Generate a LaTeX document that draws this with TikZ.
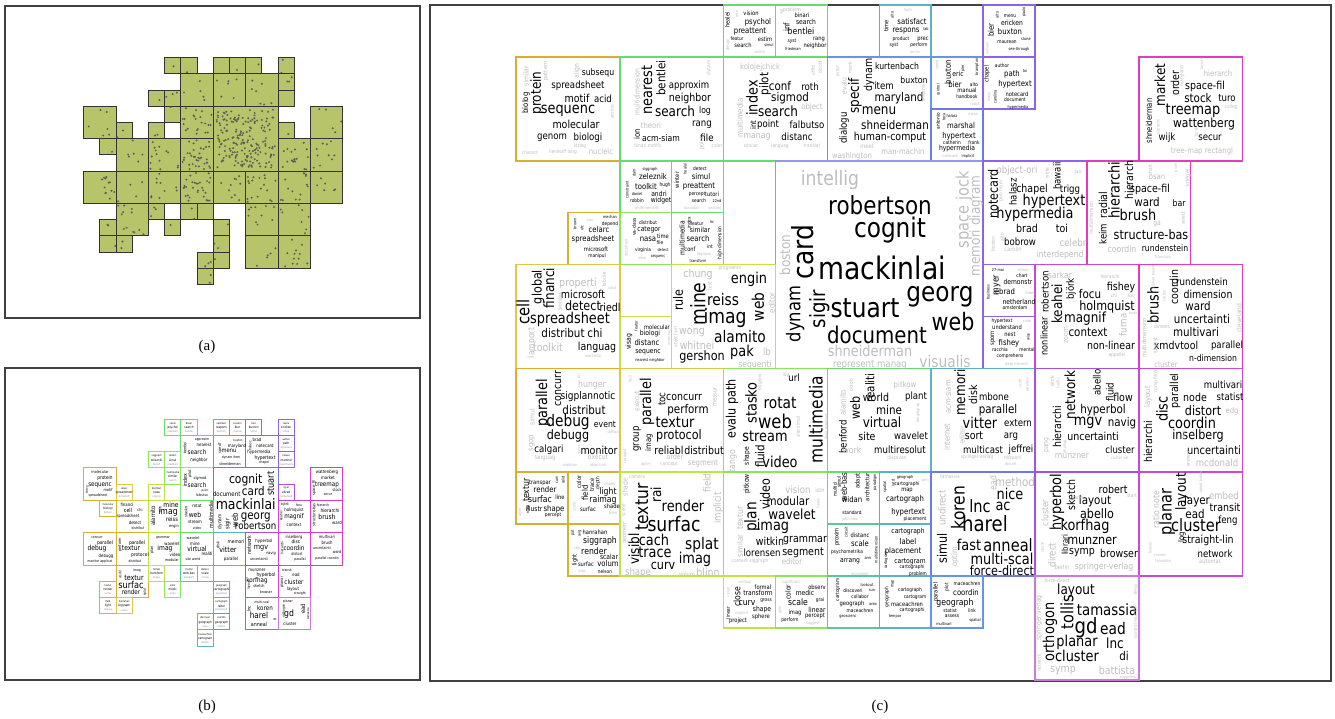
\documentclass[tikz,border=0pt]{standalone}
\usepackage{fontspec}
\setmainfont{Liberation Serif}
\newfontfamily\cloudfont{DejaVu Sans}[FakeStretch=0.86]
\usetikzlibrary{positioning}
\definecolor{clGold}{RGB}{214,176,48}
\definecolor{clOrange}{RGB}{236,168,40}
\definecolor{clYel}{RGB}{222,200,70}
\definecolor{clLime}{RGB}{190,228,70}
\definecolor{clLeaf}{RGB}{140,230,90}
\definecolor{clGreen}{RGB}{100,220,110}
\definecolor{clPale}{RGB}{150,228,150}
\definecolor{clMint}{RGB}{90,200,150}
\definecolor{clTeal}{RGB}{90,180,200}
\definecolor{clSky}{RGB}{100,150,230}
\definecolor{clBlue}{RGB}{110,120,230}
\definecolor{clLav}{RGB}{150,150,235}
\definecolor{clViolet}{RGB}{140,100,235}
\definecolor{clPurple}{RGB}{170,80,220}
\definecolor{clOrchid}{RGB}{205,70,215}
\definecolor{clMag}{RGB}{225,60,190}
\definecolor{clPink}{RGB}{205,120,220}
\definecolor{aFill}{RGB}{184,196,106}
\definecolor{dotC}{RGB}{95,95,85}
\definecolor{wordG}{RGB}{190,190,190}

% one word of a cloud: [opts]{x}{y}{size}{text}
\newcommand{\wrd}[5][]{\node[wrd,#1] at (#2,#3) {\fontsize{#4}{#4}\selectfont #5};}
% panel (c) cell: {p}{q}{size}{colour}
\newcommand{\ccell}[4]{\draw[cbox,draw=#4] ({516+51.9*(#1)},{57+51.9*(#2)}) rectangle ++({51.9*(#3)},{51.9*(#3)});}
% panel (b) cell: {i}{j}{size}{colour}
\newcommand{\bcell}[4]{\draw[bbox,draw=#4] ({83.7+16.2*(#1)},{419.3+16.2*(#2)}) rectangle ++({16.2*(#3)},{16.2*(#3)});}
\newcommand{\bsmall}[6]{\bcell{#1}{#2}{1}{#3}%
  \node[wrd] at ({91.8+16.2*(#1)},{423.6+16.2*(#2)}) {\fontsize{2.6}{2.6}\selectfont #4};%
  \node[wrd] at ({91.8+16.2*(#1)},{427.8+16.2*(#2)}) {\fontsize{3.2}{3.2}\selectfont #5};%
  \node[wrd,text=black!45] at ({91.8+16.2*(#1)},{432+16.2*(#2)}) {\fontsize{2.6}{2.6}\selectfont #6};}
% panel (a) cell with its points: {i}{j}{size}{points}
\newcommand{\acell}[4]{%
  \pgfmathsetmacro{\ax}{83.7+16.2*(#1)}%
  \pgfmathsetmacro{\ay}{57.7+16.2*(#2)}%
  \pgfmathsetmacro{\as}{16.2*(#3)}%
  \draw[abox] (\ax,\ay) rectangle ++(\as,\as);%
  \ifnum#4>0
    \foreach \k in {1,...,#4}{\fill[dotC] ({\ax+\as*(0.5+0.45*rand)},{\ay+\as*(0.5+0.45*rand)}) circle (1.1);}%
  \fi}

\begin{document}
\begin{tikzpicture}[x=1pt,y=-1pt,
  wrd/.style={inner sep=0pt,font=\cloudfont},
  lt/.style={text=wordG},
  up/.style={rotate=90},
  frame/.style={draw=black!75,line width=1.1pt},
  cbox/.style={line width=1.5pt},
  bbox/.style={line width=0.9pt,fill=white},
  abox/.style={fill=aFill,draw=black!80,line width=1pt}]
  \fill[white] (0,0) rectangle (1335,719);
  \useasboundingbox (0,0) rectangle (1335,719);
  \pgfmathsetseed{42}

  % ---------- (a) grid of occupied cells ----------
  \draw[frame] (5,6) rectangle (420,318);
  \acell{5}{0}{1}{1} \acell{6}{0}{1}{1} \acell{8}{0}{1}{0} \acell{9}{0}{1}{1} \acell{10}{0}{1}{1} \acell{12}{0}{1}{2}
  \acell{6}{1}{2}{5} \acell{8}{1}{2}{6} \acell{10}{1}{2}{7} \acell{12}{1}{1}{3} \acell{12}{2}{1}{0}
  \acell{4}{2}{1}{1} \acell{5}{2}{1}{3}
  \acell{0}{3}{2}{6} \acell{5}{3}{1}{1} \acell{6}{3}{2}{22} \acell{8}{3}{4}{190} \acell{14}{3}{2}{5}
  \acell{2}{4}{1}{2} \acell{4}{4}{1}{2} \acell{12}{4}{1}{1}
  \acell{1}{5}{1}{1} \acell{2}{5}{2}{6} \acell{4}{5}{2}{14} \acell{6}{5}{2}{35} \acell{12}{5}{2}{18} \acell{14}{5}{2}{10}
  \acell{0}{7}{2}{12} \acell{2}{7}{2}{4} \acell{4}{7}{2}{10} \acell{6}{7}{2}{30} \acell{8}{7}{2}{10} \acell{10}{7}{2}{18} \acell{12}{7}{2}{14} \acell{14}{7}{2}{6}
  \acell{2}{9}{2}{12} \acell{4}{9}{1}{3} \acell{6}{9}{1}{2} \acell{7}{9}{1}{0} \acell{10}{9}{2}{10} \acell{12}{9}{2}{8}
  \acell{1}{10}{1}{2} \acell{5}{10}{1}{1} \acell{8}{10}{1}{1}
  \acell{1}{11}{1}{1} \acell{2}{11}{1}{2} \acell{8}{11}{1}{2} \acell{10}{11}{2}{5} \acell{12}{11}{2}{12}
  \acell{7}{12}{1}{3} \acell{8}{12}{1}{1} \acell{7}{13}{1}{2}
  \node (capA) at (207,347) {\fontsize{15}{15}\selectfont (a)};

  % ---------- (b) same grid, tiny clouds ----------
  \draw[frame] (5,368) rectangle (420,680);
  \bcell{6}{1}{2}{clGreen} \bcell{8}{1}{2}{clSky} \bcell{10}{1}{2}{clViolet}
  \bcell{0}{3}{2}{clGold} \bcell{6}{3}{2}{clPale} \bcell{8}{3}{4}{clBlue} \bcell{14}{3}{2}{clMag}
  \bcell{2}{5}{2}{clYel} \bcell{4}{5}{2}{clLime} \bcell{6}{5}{2}{clGreen} \bcell{12}{5}{2}{clOrchid} \bcell{14}{5}{2}{clMag}
  \bcell{0}{7}{2}{clOrange} \bcell{2}{7}{2}{clGold} \bcell{4}{7}{2}{clLime} \bcell{6}{7}{2}{clGreen}
  \bcell{8}{7}{2}{clTeal} \bcell{10}{7}{2}{clPurple} \bcell{12}{7}{2}{clOrchid} \bcell{14}{7}{2}{clMag}
  \bcell{2}{9}{2}{clGold} \bcell{10}{9}{2}{clPurple} \bcell{12}{9}{2}{clOrchid}
  \bcell{10}{11}{2}{clBlue} \bcell{12}{11}{2}{clPink}
  \bsmall{5}{0}{clGreen}{vision}{psychol}{preattent}
  \bsmall{6}{0}{clGreen}{binari}{search}{bentlei}
  \bsmall{8}{0}{clTeal}{satisfact}{respons}{perform}
  \bsmall{9}{0}{clSky}{buxton}{bier}{manual}
  \bsmall{10}{0}{clBlue}{bier}{buxton}{stone}
  \bsmall{12}{0}{clViolet}{menu}{ericken}{stone}
  \bsmall{12}{1}{clViolet}{author}{path}{hypertext}
  \bsmall{12}{2}{clViolet}{halasz}{marshal}{hypermedia}
  \bsmall{4}{2}{clLeaf}{siggraph}{zeleznik}{toolkit}
  \bsmall{5}{2}{clLeaf}{detect}{simul}{preattent}
  \bsmall{5}{3}{clLeaf}{multimedia}{similar}{search}
  \bsmall{2}{4}{clYel}{celarc}{spreadsheet}{microsoft}
  \bsmall{4}{4}{clLime}{distribut}{nasa}{virginia}
  \bsmall{12}{4}{clPurple}{myer}{ebrad}{netherland}
  \bsmall{1}{5}{clGold}{molecular}{biologi}{distanc}
  \bsmall{4}{9}{clLime}{formal}{transform}{shape}
  \bsmall{6}{9}{clMint}{multid}{web-bas}{standard}
  \bsmall{7}{9}{clMint}{distanc}{scale}{arrang}
  \bsmall{5}{10}{clLeaf}{color}{medic}{scale}
  \bsmall{8}{10}{clTeal}{geograph}{cartographi}{hypertext}
  \bsmall{1}{10}{clGold}{textur}{render}{surfac}
  \bsmall{1}{11}{clGold}{field}{light}{raimag}
  \bsmall{2}{11}{clYel}{hanrahan}{siggraph}{volum}
  \bsmall{8}{11}{clTeal}{cartograph}{label}{placement}
  \bsmall{7}{12}{clTeal}{discoveri}{geograph}{area}
  \bsmall{8}{12}{clSky}{coordin}{geograph}{statist}
  \bsmall{7}{13}{clTeal}{maceachren}{cartogram}{tempor}
  % words of the bigger (b) cells
  \wrd{245.7}{480.2}{12.5}{cognit}
  \wrd{253.3}{491.2}{12}{card}
  \wrd[up]{270.7}{483.7}{9.5}{stuart}
  \wrd{226.7}{494.3}{6.3}{document}
  \wrd{245.7}{504}{14.5}{mackinlai}
  \wrd{255.7}{517.7}{12}{georg}
  \wrd{255.7}{526}{10}{robertson}
  \wrd[up]{235}{520}{8}{web}
  \wrd[up]{227.7}{524}{6}{sigir}
  \wrd[up]{220}{521.7}{5}{dynam}
  \wrd{100}{472.5}{4}{molecular}
  \wrd{105}{478.5}{5}{protein}
  \wrd{100}{485}{6.5}{sequenc}
  \wrd{108}{490.5}{4}{motif}
  \wrd{98}{495.5}{3.5}{spreadsheet}
  \wrd[up]{87}{490}{3}{biolog}
  \wrd{202}{440}{3.5}{approxim}
  \wrd{204}{445}{4.5}{nearest}
  \wrd{197}{452}{6.5}{search}
  \wrd{199}{460}{4.5}{neighbor}
  \wrd[up]{185}{448}{4}{bentlei}
  \wrd[up]{185}{480}{5.5}{index}
  \wrd[up]{190}{474}{4}{pilot}
  \wrd{200}{478}{4}{sigmod}
  \wrd{197}{485}{6.5}{search}
  \wrd{205}{491}{3}{point}
  \wrd{202}{495}{3.5}{falbutso}
  \wrd[up]{220}{448}{4}{specif}
  \wrd{237}{446}{4.5}{maryland}
  \wrd{229}{451}{6}{menu}
  \wrd{231}{458}{3.5}{dynam item}
  \wrd{230}{464}{3.8}{shneiderman}
  \wrd{238}{440}{3}{buxton}
  \wrd{257}{440}{4.5}{brad}
  \wrd{265}{446}{4.5}{notecard}
  \wrd{259}{452}{4.5}{hypermedia}
  \wrd{265}{458}{5}{hypertext}
  \wrd{264}{463}{3.5}{chapel}
  \wrd[up]{250}{446}{3.5}{halasz}
  \wrd{327}{472.5}{4.5}{wattenberg}
  \wrd{328}{478}{4.5}{market}
  \wrd{327}{484.5}{6.5}{treemap}
  \wrd{337}{490}{4}{stock}
  \wrd{328}{495}{3.5}{secur}
  \wrd[up]{314}{488}{4}{space-fil}
  \wrd{127}{504.5}{4.5}{financi}
  \wrd{128}{510}{5.5}{cell}
  \wrd{140}{510}{4}{chi}
  \wrd{128}{516.5}{4.2}{spreadsheet}
  \wrd{135}{522.5}{4.5}{detect}
  \wrd{138}{528}{3.5}{distribut}
  \wrd[up]{153}{516}{6}{alamito}
  \wrd{171}{504.5}{7}{mine}
  \wrd{168}{512.5}{9}{imag}
  \wrd{172}{519.5}{6}{reiss}
  \wrd{174}{526}{4}{engin}
  \wrd[up]{160}{510}{3.5}{rule}
  \wrd{197}{506}{4.5}{rotat}
  \wrd{195}{514.5}{7}{web}
  \wrd{195}{522}{4.5}{stream}
  \wrd[up]{211}{515}{5.5}{multimedia}
  \wrd[up]{186}{512}{4}{stasko}
  \wrd{197}{528}{3.5}{video}
  \wrd{285}{505}{3.5}{björk}
  \wrd{299}{505}{3.5}{focu}
  \wrd{294}{510.5}{4.5}{holmquist}
  \wrd{294}{516.5}{6.5}{magnif}
  \wrd{294}{525}{4.5}{context}
  \wrd[up]{281}{516}{3.5}{keahei}
  \wrd{323}{505}{3.5}{hierarch}
  \wrd{330}{510.5}{5}{hierarchi}
  \wrd{327}{516.5}{7}{brush}
  \wrd{337}{523}{4.5}{ward}
  \wrd[up]{314}{515}{4}{structure-bas}
  \wrd{97}{538}{3.5}{concurr}
  \wrd{105}{543.5}{5}{parallel}
  \wrd{97}{549}{7}{debug}
  \wrd{106}{556.5}{4.5}{debugg}
  \wrd{100}{562}{3.5}{monitor applicat}
  \wrd{137}{543.5}{5}{parallel}
  \wrd{131}{548.5}{7}{textur}
  \wrd{140}{555}{5}{protocol}
  \wrd{135}{561}{3.5}{distribut}
  \wrd[up]{120}{545}{4}{perform}
  \wrd{163}{538}{3.5}{grammar}
  \wrd{172}{543.5}{4.5}{wavelet}
  \wrd{165}{548.5}{7}{imag}
  \wrd{175}{554.5}{4.5}{video}
  \wrd{172}{560}{3.8}{modular}
  \wrd[up]{152}{550}{4}{plan}
  \wrd{193}{538}{3.8}{wavelet}
  \wrd{195}{543.5}{4.5}{mine}
  \wrd{197}{549}{7}{virtual}
  \wrd{207}{554}{4.5}{realiti}
  \wrd{193}{559.5}{3.5}{site world}
  \wrd[up]{218}{545}{4}{disk}
  \wrd{236}{541.5}{5}{memori}
  \wrd{228}{550}{7.5}{vitter}
  \wrd{231}{559}{4.5}{parallel}
  \wrd[up]{249}{545}{5.5}{network}
  \wrd{264}{541.5}{4.5}{hyperbol}
  \wrd{261}{548}{7.5}{mgv}
  \wrd{271}{553}{4}{navig}
  \wrd{259}{559}{3.8}{uncertainti}
  \wrd{294}{537}{4.2}{inselberg}
  \wrd{296}{542}{5}{disc}
  \wrd{294}{548}{6.5}{coordin}
  \wrd{297}{554}{4}{distort}
  \wrd{300}{559.5}{3.5}{parallel}
  \wrd[up]{282}{548}{3.5}{hierarchi}
  \wrd{327}{537}{4.2}{multivari}
  \wrd{327}{542.5}{4.5}{brush}
  \wrd{322}{548}{3.8}{uncertainti}
  \wrd{337}{552.5}{4}{ward}
  \wrd{327}{558.5}{3.5}{parallel coordin}
  \wrd{137}{570.5}{3.5}{imag}
  \wrd{134}{578}{7.5}{textur}
  \wrd{131}{585}{9.5}{surfac}
  \wrd{131}{592}{6.5}{render}
  \wrd[up]{120}{575}{3.5}{visibl}
  \wrd[up]{145}{592}{3.5}{splat}
  \wrd{257}{570}{4.5}{munzner}
  \wrd{266}{575}{5}{hyperbol}
  \wrd{257}{580.5}{6.5}{korfhag}
  \wrd{259}{586}{4}{sketch}
  \wrd{266}{592}{3.5}{browser}
  \wrd[up]{249}{585}{3.5}{layout}
  \wrd{287}{570}{3.5}{transit}
  \wrd{296}{575}{4.5}{ead}
  \wrd{294}{582}{6.5}{cluster}
  \wrd{293}{589}{4.5}{layout}
  \wrd{300}{594}{3.5}{straight}
  \wrd[up]{282}{582}{4}{planar}
  \wrd[up]{249}{609}{4.5}{lnc}
  \wrd{262}{602}{3.5}{multi-scal}
  \wrd{265}{608}{6.5}{koren}
  \wrd{259}{615.5}{8.5}{harel}
  \wrd{259}{624}{5.5}{anneal}
  \wrd{275}{620}{3.5}{ac}
  \wrd{288}{602}{3.5}{planar}
  \wrd{289}{614}{9}{gd}
  \wrd[up]{303}{609}{6}{ead}
  \wrd{290}{624}{4.5}{cluster}
  \wrd[up]{284}{611}{3.5}{orthogon}
  \wrd[up]{308}{614}{3}{tamassia}
  \node (capB) at (207,707) {\fontsize{15}{15}\selectfont (b)};

  % ---------- (c) enlarged clouds ----------
  \draw[frame] (430,5) rectangle (1331,681);
  \ccell{4}{-1}{1}{clGreen} \ccell{5}{-1}{1}{clGreen} \ccell{7}{-1}{1}{clTeal} \ccell{9}{-1}{1}{clViolet}
  \ccell{0}{0}{2}{clGold} \ccell{2}{0}{2}{clGreen} \ccell{4}{0}{2}{clGreen} \ccell{6}{0}{2}{clSky}
  \ccell{8}{0}{1}{clSky} \ccell{9}{0}{1}{clViolet} \ccell{8}{1}{1}{clBlue} \ccell{12}{0}{2}{clMag}
  \ccell{2}{2}{1}{clGreen} \ccell{3}{2}{1}{clGreen} \ccell{5}{2}{4}{clLav} \ccell{9}{2}{2}{clViolet} \ccell{11}{2}{2}{clMag}
  \ccell{1}{3}{1}{clGold} \ccell{2}{3}{1}{clLeaf} \ccell{3}{3}{1}{clGreen}
  \ccell{0}{4}{2}{clYel} \ccell{3}{4}{2}{clLime} \ccell{2}{5}{1}{clLime}
  \ccell{9}{4}{1}{clViolet} \ccell{9}{5}{1}{clViolet} \ccell{10}{4}{2}{clOrchid} \ccell{12}{4}{2}{clMag}
  \ccell{0}{6}{2}{clOrange} \ccell{2}{6}{2}{clYel} \ccell{4}{6}{2}{clLeaf} \ccell{6}{6}{2}{clGreen}
  \ccell{8}{6}{2}{clTeal} \ccell{10}{6}{2}{clPurple} \ccell{12}{6}{2}{clOrchid}
  \ccell{0}{8}{1}{clGold} \ccell{1}{8}{1}{clGold} \ccell{1}{9}{1}{clGold} \ccell{2}{8}{2}{clLime}
  \ccell{4}{8}{2}{clLeaf} \ccell{6}{8}{1}{clGreen} \ccell{6}{9}{1}{clMint} \ccell{7}{8}{1}{clTeal} \ccell{7}{9}{1}{clTeal}
  \ccell{8}{8}{2}{clBlue} \ccell{10}{8}{2}{clPurple} \ccell{12}{8}{2}{clOrchid}
  \ccell{4}{10}{1}{clLime} \ccell{5}{10}{1}{clLeaf} \ccell{6}{10}{1}{clMint} \ccell{7}{10}{1}{clTeal}
  \ccell{8}{10}{1}{clSky} \ccell{10}{10}{2}{clPink}

  % top strip
  \wrd{751}{13}{6}{vision}
  \wrd{758}{22}{8}{psychol}
  \wrd{750}{31.5}{8}{preattent}
  \wrd{765}{39}{6}{estim}
  \wrd{737}{38.5}{5}{featur}
  \wrd{743}{45.5}{6}{search}
  \wrd{769}{45.5}{4}{simul}
  \wrd[up]{727.5}{20}{6}{healei}
  \wrd[up,lt]{737}{14}{4}{enn}
  \wrd[lt]{760}{52}{4}{orient}
  \wrd[up,lt]{728}{45}{4}{design}
  \wrd{802}{15.5}{6}{binari}
  \wrd{806}{22}{7}{search}
  \wrd[up]{786.5}{27}{8}{inf}
  \wrd{801}{31.5}{9}{bentlei}
  \wrd{819}{39}{6}{rang}
  \wrd{792}{41.5}{5}{syst}
  \wrd{815}{45.5}{6}{neighbor}
  \wrd{793}{49}{4}{friedman}
  \wrd[lt]{792}{10}{5}{problem}
  \wrd[up,lt]{782}{12}{4}{rep}
  \wrd{912}{21.5}{8}{satisfact}
  \wrd{906}{31.5}{8}{respons}
  \wrd{926}{29}{4}{lab}
  \wrd{901}{39}{5}{product}
  \wrd{923}{39}{6}{prec}
  \wrd{894}{45.5}{5}{syst}
  \wrd{919}{45.5}{5}{perform}
  \wrd[up]{886}{26}{6}{time}
  \wrd[up]{892}{15}{4}{alto}
  \wrd[lt]{915}{52}{4}{on-lin}
  \wrd[lt]{908}{10}{4}{tech}
  \wrd{1010}{16}{5}{menu}
  \wrd{1012}{22.5}{7}{ericken}
  \wrd[up]{991}{30}{8}{bier}
  \wrd{1010}{31.5}{8}{buxton}
  \wrd[up]{997}{15}{4}{alto}
  \wrd{1007}{42}{5}{maurean}
  \wrd{1026}{39}{4}{stone}
  \wrd{1019}{49}{4}{see-through}
  \wrd[up]{1024}{12}{4}{paulo}
  \wrd[up,lt]{987}{48}{4}{william}

  % row 0-2
  \wrd{598}{73}{9}{subsequ}
  \wrd{578}{86}{10}{spreadsheet}
  \wrd{577}{98}{11}{motif}
  \wrd{603}{98.5}{10}{acid}
  \wrd{568}{111}{15}{sequenc}
  \wrd[up]{537}{93}{14}{protein}
  \wrd[up]{526}{103}{8}{biolog}
  \wrd[up,lt]{526}{76}{7}{similar}
  \wrd{576}{124}{11}{molecular}
  \wrd{552}{137.5}{10}{genom}
  \wrd{588}{137.5}{10}{biologi}
  \wrd[up,lt]{546}{71}{6}{pattern}
  \wrd[up,lt]{577}{71}{7}{align}
  \wrd[up,lt]{612}{112}{5}{amino}
  \wrd[lt]{580}{146}{5}{string}
  \wrd[lt]{601}{151.5}{8}{nucleic}
  \wrd[lt]{563}{152.5}{5}{henikoff long}
  \wrd[lt]{530}{152.5}{5}{charact}

  \wrd[up]{647}{90}{15}{nearest}
  \wrd[up]{661}{78}{12}{bentlei}
  \wrd{689}{86}{10}{approxim}
  \wrd{690}{98.5}{11}{neighbor}
  \wrd{675}{111}{14}{search}
  \wrd{705}{111.5}{9}{log}
  \wrd{702}{125}{10}{rang}
  \wrd{661}{138}{9}{acm-siam}
  \wrd[up]{637}{134}{8}{ion}
  \wrd{707}{138}{10}{file}
  \wrd[up,lt]{637}{92}{7}{multidimension}
  \wrd[lt]{651}{125.5}{8}{theori}
  \wrd[lt]{648}{146}{5}{binari metric}
  \wrd[up,lt]{702}{143}{6}{point}
  \wrd[up,lt]{709}{68}{5}{dynam}
  \wrd[lt]{717}{146}{5}{color}

  \wrd[lt]{760}{67}{8}{kolojejchick}
  \wrd[up]{752}{98}{15}{index}
  \wrd[up]{765}{84}{12}{pilot}
  \wrd[up]{753}{125}{8}{int}
  \wrd{780}{86}{12}{conf}
  \wrd{810}{86.5}{10}{roth}
  \wrd{790}{98.5}{12}{sigmod}
  \wrd{778}{111}{14}{search}
  \wrd[lt]{812}{107}{8}{object}
  \wrd{768}{125}{10}{point}
  \wrd{807}{125}{10}{falbutso}
  \wrd{797}{137}{10}{distanc}
  \wrd[lt]{757}{137}{9}{manag}
  \wrd[up,lt]{740}{118}{8}{multimedia}
  \wrd[lt]{751}{146}{5}{similar}
  \wrd[lt]{780}{146}{5}{languag}
  \wrd[lt]{812}{146}{5}{translat}
  \wrd[up,lt]{813}{70}{5}{offici}
  \wrd[up,lt]{820}{67}{5}{doubl}

  \wrd{897}{66.5}{9}{kurtenbach}
  \wrd{914}{80}{9}{buxton}
  \wrd{884}{86}{10}{item}
  \wrd[up]{869}{75}{11}{dynam}
  \wrd[up]{855}{96}{14}{specif}
  \wrd{899}{98.5}{12}{maryland}
  \wrd{879}{111}{14}{menu}
  \wrd{895}{125}{12}{shneiderman}
  \wrd{890}{137}{11}{human-comput}
  \wrd[up]{844}{128}{10}{dialogu}
  \wrd[up,lt]{844}{86}{7}{evalu}
  \wrd[up,lt]{850}{68}{5}{mark}
  \wrd[up,lt]{838}{71}{5}{error}
  \wrd[lt]{867}{146}{6}{meet}
  \wrd[lt]{903}{151.5}{8}{man-machin}
  \wrd[lt]{852}{156.5}{8}{washington}
  \wrd[up,lt]{923}{90}{5}{williamson}

  \wrd[up]{948}{72}{8}{buxton}
  \wrd{958}{74}{7}{eric}
  \wrd{955}{85}{8}{bier}
  \wrd{974}{85}{5}{alto}
  \wrd{967}{90.5}{6}{manual}
  \wrd{967}{97}{5}{handbook}
  \wrd[up]{938}{90}{4}{control}
  \wrd[up]{963}{68}{4}{pier}
  \wrd[up]{977}{67}{4}{brampton}
  \wrd[lt]{975}{104}{4}{robot}
  \wrd[up,lt]{937}{65}{4}{stone}
  \wrd{1002}{65.5}{5}{author}
  \wrd{1012}{74}{8}{path}
  \wrd{1025}{71.5}{4}{toi}
  \wrd[up]{987}{74}{6}{chapel}
  \wrd{1015}{84}{8}{hypertext}
  \wrd{1017}{94}{6}{notecard}
  \wrd{1015}{100}{5}{document}
  \wrd{1018}{107}{4}{hypermedia}
  \wrd[up,lt]{989}{97}{4}{mass}
  \wrd[up]{995}{97}{4}{carolina}
  \wrd{952}{116.5}{4}{halasz}
  \wrd{961}{126}{8}{marshal}
  \wrd[up]{938}{121}{5}{antonio}
  \wrd[up]{944}{117}{4}{toca}
  \wrd{959}{136}{8}{hypertext}
  \wrd{952}{142.5}{5}{catherin}
  \wrd{974}{142.5}{5}{frank}
  \wrd{957}{148.5}{7}{hypermedia}
  \wrd[lt]{950}{156}{4}{notecard}
  \wrd{968}{156}{4}{implicit}
  \wrd[lt]{973}{114}{4}{mesa}

  \wrd[up]{1160}{85}{14}{market}
  \wrd[up]{1175}{83}{11}{order}
  \wrd[up]{1149}{121}{8}{shneiderman}
  \wrd{1205}{86}{11}{space-fil}
  \wrd{1198}{98.5}{12}{stock}
  \wrd{1227}{98.5}{10}{turo}
  \wrd{1193}{111}{15}{treemap}
  \wrd{1204}{124}{12.5}{wattenberg}
  \wrd{1167}{137.5}{10}{wijk}
  \wrd{1210}{137.5}{10}{secur}
  \wrd[lt]{1202}{151.5}{8}{tree-map rectangl}
  \wrd[lt]{1218}{74}{8}{hierarch}
  \wrd[lt]{1231}{107}{5}{colleg}
  \wrd[up,lt]{1182}{76}{5}{maryland}
  \wrd[up,lt]{1202}{64}{4}{layout}
  \wrd[up,lt]{1158}{127}{4}{hierarchi}
  \wrd[up,lt]{1196}{132}{4}{bank}

  % row 2-6
  \wrd[lt]{830}{180}{20}{intellig}
  \wrd{880}{205}{25}{robertson}
  \wrd{890}{230}{27}{cognit}
  \wrd[up]{803}{252}{29}{card}
  \wrd{882}{268}{31}{mackinlai}
  \wrd[up,lt]{785}{255}{14}{boston}
  \wrd[up]{795}{314}{19}{dynam}
  \wrd[up]{820}{309}{21}{sigir}
  \wrd{865}{308}{27}{stuart}
  \wrd{940}{297}{27}{georg}
  \wrd{953}{322}{24}{web}
  \wrd{877}{335}{23}{document}
  \wrd[lt]{870}{351}{15}{shneiderman}
  \wrd[lt]{945}{362}{16}{visualis}
  \wrd[lt]{870}{365}{10}{represent manag}
  \wrd[up,lt]{964}{210}{17}{space jock}
  \wrd[up,lt]{976}{226}{14}{memori diagram}

  \wrd{650}{169}{4}{siggraph}
  \wrd{653}{177}{8}{zeleznik}
  \wrd{646}{187}{8}{toolkit}
  \wrd{665}{185}{5}{hugh}
  \wrd{637}{194}{4}{daniel}
  \wrd{659}{194}{7}{andri}
  \wrd{637}{201}{5}{robbin}
  \wrd{661}{201}{7}{widget}
  \wrd[up]{627}{190}{4}{constraint}
  \wrd[up]{634}{173}{4}{dam}
  \wrd[lt]{647}{208}{4}{smith kenneth}
  \wrd{700}{169}{5}{detect}
  \wrd[up]{685}{169}{4}{healei}
  \wrd{701}{177}{8}{simul}
  \wrd[up]{677}{180}{6}{winter}
  \wrd{699}{187}{8}{preattent}
  \wrd{697}{194}{5}{percept}
  \wrd{712}{194}{6}{tutori}
  \wrd{699}{201}{5}{search}
  \wrd{717}{201}{4}{22nd}
  \wrd[lt]{692}{208}{4}{boundari}
  \wrd[lt]{715}{208}{4}{session}
  \wrd{610}{217}{4}{mechan}
  \wrd[up]{575}{224}{4}{brown}
  \wrd{610}{224}{5}{depend}
  \wrd{599}{230}{8}{celarc}
  \wrd{593}{239}{8}{spreadsheet}
  \wrd{596}{249}{6}{microsoft}
  \wrd{597}{256.5}{5}{manipul}
  \wrd[lt]{590}{220}{4}{nav}
  \wrd[up]{582}{228}{4}{utc}
  \wrd{648}{223}{5}{distribut}
  \wrd{649}{230}{7}{categor}
  \wrd[up]{634}{227}{5}{va-class}
  \wrd{648}{239}{8}{nasa}
  \wrd{663}{236}{6}{time}
  \wrd{660}{243}{5}{file}
  \wrd{643}{250}{5}{virginia}
  \wrd{663}{250}{4}{detect}
  \wrd{658}{256.5}{4}{sequenc}
  \wrd[up,lt]{626}{248}{4}{document}
  \wrd[lt]{642}{258}{4}{view}
  \wrd[up]{682}{238}{7}{multimedia}
  \wrd[up]{689}{223}{5}{index}
  \wrd{697}{224}{5}{featur}
  \wrd{712}{222}{4}{lrc}
  \wrd{700}{230}{7}{similar}
  \wrd{698}{239}{8}{search}
  \wrd{690}{249}{6}{conf}
  \wrd{710}{247}{5}{int}
  \wrd[up]{720}{243}{5}{high-dimension}
  \wrd{698}{261.5}{4}{transform}
  \wrd[lt]{704}{254}{4}{fagrawa}

  \wrd[up]{523}{312}{17}{cell}
  \wrd[up]{538}{287}{13}{global}
  \wrd[up]{549}{288}{14}{financi}
  \wrd[lt]{578}{283}{11}{properti}
  \wrd{583}{294}{11}{microsoft}
  \wrd{583}{306}{13}{detect}
  \wrd{610}{307}{11}{riedl}
  \wrd{570}{319}{15}{spreadsheet}
  \wrd{563}{333}{12}{distribut}
  \wrd{595}{333}{12}{chi}
  \wrd{597}{347}{11}{languag}
  \wrd[lt]{548}{347}{11}{toolkit}
  \wrd[up,lt]{532}{343}{9}{lamport}
  \wrd[up,lt]{560}{302}{5}{tabl stat}
  \wrd[up,lt]{604}{279}{5}{tabular}
  \wrd[lt]{612}{288}{4}{card}
  \wrd[lt]{593}{356}{4}{mackinlai}
  \wrd[up]{629}{342}{7}{visag}
  \wrd{657}{327}{6}{molecular}
  \wrd{650}{334}{7}{biologi}
  \wrd{647}{343}{8}{distanc}
  \wrd{648}{352.5}{7}{sequenc}
  \wrd{650}{360}{4}{nearest neighbor}
  \wrd[up]{636}{326}{4}{featur}
  \wrd[up,lt]{669}{337}{3.5}{reconstruct}
  \wrd[lt]{698}{274}{11}{chung}
  \wrd[lt]{730}{269}{5}{programm}
  \wrd{749}{279}{15}{engin}
  \wrd[up]{758}{307}{16}{web}
  \wrd[up,lt]{772}{303}{8}{editor}
  \wrd[up]{678}{300}{13}{rule}
  \wrd[up]{698}{304}{20}{mine}
  \wrd{723}{300}{16}{reiss}
  \wrd{725}{318}{20}{imag}
  \wrd{740}{337}{16}{alamito}
  \wrd[lt]{692}{333}{11}{wong}
  \wrd[lt]{697}{345}{11}{whitnei}
  \wrd{742}{352}{15}{pak}
  \wrd[lt]{767}{352}{10}{lb}
  \wrd{702}{357}{13}{gershon}
  \wrd[lt]{755}{365}{9}{sequenti}
  \wrd[up,lt]{676}{337}{5}{object-ori}
  \wrd[up,lt]{710}{286}{5}{text}

  \wrd[lt]{1017}{170.5}{10}{object-ori}
  \wrd[up]{993}{194}{13}{notecard}
  \wrd[up]{1013}{192}{10}{halasz}
  \wrd[up]{1057}{176}{10}{hawaii}
  \wrd{1032}{189}{11}{chapel}
  \wrd{1070}{190}{10}{trigg}
  \wrd{1054}{201.5}{15}{hypertext}
  \wrd{1035}{214}{15}{hypermedia}
  \wrd{1027}{228}{11}{brad}
  \wrd{1062}{228}{11}{toi}
  \wrd{1020}{242}{10}{bobrow}
  \wrd[lt]{1073}{242.5}{10}{celebr}
  \wrd[lt]{1060}{255.5}{9}{interdepend}
  \wrd[lt]{1013}{249}{6}{carolin}
  \wrd[up,lt]{1001}{191}{5}{palo myer}
  \wrd[up,lt]{1002}{237}{5}{alto}
  \wrd[up,lt]{993}{244}{5}{boston}
  \wrd[lt]{1078}{172}{5}{jan}
  \wrd[up,lt]{1047}{173}{5}{write}
  \wrd[up]{1114}{190}{15}{hierarchi}
  \wrd[up]{1129}{180}{11}{hierarch}
  \wrd[up]{1103}{205}{11}{radial}
  \wrd[up]{1103}{234}{10}{keim}
  \wrd{1150}{189}{11}{space-fil}
  \wrd{1147}{202.5}{12}{ward}
  \wrd{1179}{203}{9}{bar}
  \wrd{1138}{215}{15}{brush}
  \wrd{1151}{235}{13}{structure-bas}
  \wrd[lt]{1122}{249}{9}{coordin}
  \wrd{1165}{248}{9}{rundenstein}
  \wrd[lt]{1157}{177.5}{8}{osan}
  \wrd[up,lt]{1150}{170}{5}{chart}
  \wrd[up,lt]{1188}{178}{6}{kriegel}
  \wrd[lt]{1157}{224}{7}{ga}
  \wrd[up,lt]{1183}{218}{5}{select}
  \wrd[lt]{1163}{257}{4}{francisco}
  \wrd[up,lt]{1176}{168}{4}{pixel}
  \wrd[up,lt]{1091}{218}{5}{multidimension}

  \wrd{998}{270}{4}{27-mai}
  \wrd[lt]{1023}{270}{4}{orlean}
  \wrd[up]{997}{285}{9}{myer}
  \wrd{1022}{275.5}{5}{chart}
  \wrd{1018}{282}{7}{demonstr}
  \wrd{1005}{291.5}{8}{ebrad}
  \wrd{1019}{301.5}{7}{netherland}
  \wrd{1015}{308}{5}{amsterdam}
  \wrd[up]{988}{292}{4}{business}
  \wrd[lt]{1030}{293}{4}{slides}
  \wrd{1002}{321.5}{5}{hypertext}
  \wrd[lt]{1027}{321.5}{4}{code}
  \wrd{1007}{327}{6}{understand}
  \wrd{1010}{334}{6}{nest}
  \wrd{1009}{343}{8}{fishey}
  \wrd[up]{993}{338}{6}{sporn}
  \wrd{1000}{350}{5}{racchia}
  \wrd{1027}{350}{5}{mental}
  \wrd{1010}{356.5}{5}{comprehens}
  \wrd[lt]{1017}{364}{4}{dept hierarch}
  \wrd[up]{1028}{337}{4}{wiss}

  \wrd[up]{1045}{292}{10}{robertson}
  \wrd[up]{1057}{304}{14}{keahei}
  \wrd[up]{1071}{289}{10}{björk}
  \wrd[lt]{1060}{275}{9}{sarkar}
  \wrd[lt]{1110}{276.5}{5}{hierarchi}
  \wrd{1090}{294}{12}{focu}
  \wrd{1121}{287}{11}{fishey}
  \wrd{1107}{306.5}{13}{holmquist}
  \wrd{1085}{319}{14}{magnif}
  \wrd{1088}{332}{12}{context}
  \wrd[up]{1044}{336}{9.5}{nonlinear}
  \wrd{1111}{345.5}{11}{non-linear}
  \wrd[up,lt]{1066}{335}{7}{zoom}
  \wrd[up,lt]{1123}{325}{10}{furna}
  \wrd[lt]{1114}{296}{5}{chi}
  \wrd[lt]{1131}{296}{5}{list}
  \wrd[lt]{1117}{355}{5}{appellei}
  \wrd[lt]{1133}{313}{4}{onali}
  \wrd[up]{1153}{305}{15}{brush}
  \wrd[up]{1174}{287}{11}{coordin}
  \wrd{1202}{281.5}{10}{rundenstein}
  \wrd{1208}{294}{11}{dimension}
  \wrd{1198}{306.5}{12}{ward}
  \wrd{1202}{319}{12}{uncertainti}
  \wrd{1196}{332}{12}{multivari}
  \wrd{1176}{345.5}{11}{xmdvtool}
  \wrd{1227}{345.5}{10}{parallel}
  \wrd{1213}{358}{9}{n-dimension}
  \wrd[lt]{1166}{365}{8}{cluster}
  \wrd[up,lt]{1239}{318}{7}{cleveland}
  \wrd[up,lt]{1155}{345}{6}{statist}
  \wrd[up,lt]{1144}{338}{6}{multidimension}
  \wrd[lt]{1162}{327}{5}{dimens}
  \wrd[up,lt]{1153}{277}{4}{conver bound}
  \wrd[up,lt]{1164}{296}{4}{clinton}

  % row 6-8
  \wrd[up]{543}{403}{15}{parallel}
  \wrd[up]{558}{389}{11}{concurr}
  \wrd[lt]{592}{385}{9}{hunger}
  \wrd{588}{397}{10.5}{sigplannotic}
  \wrd{584}{410.5}{12}{distribut}
  \wrd{568}{422.5}{16}{debug}
  \wrd{605}{424}{9}{event}
  \wrd{568}{436}{13}{debugg}
  \wrd{549}{450}{10}{calgari}
  \wrd{599}{450}{11}{monitor}
  \wrd[up,lt]{532}{417}{7}{simul}
  \wrd[up,lt]{532}{443}{8}{sgop}
  \wrd[lt]{545}{457.5}{6}{languag}
  \wrd[lt]{598}{457.5}{7}{execut}
  \wrd[lt]{570}{465}{4}{madison}
  \wrd[lt]{598}{465}{4}{object-ori}
  \wrd[up,lt]{579}{450}{4}{tracin}
  \wrd[lt]{613}{432}{4}{softwa}
  \wrd[up,lt]{579}{376}{4}{jul}
  \wrd[up]{647}{402}{15}{parallel}
  \wrd[up]{662}{399}{10}{toc}
  \wrd{684}{397}{11}{concurr}
  \wrd{688}{410.5}{12}{perform}
  \wrd{675}{422.5}{15}{textur}
  \wrd{679}{436}{13}{protocol}
  \wrd[up]{637}{439}{10}{group}
  \wrd[up]{649}{443}{8}{imag}
  \wrd{669}{450}{11}{reliabl}
  \wrd{704}{450}{11}{distribut}
  \wrd[up,lt]{637}{401}{7}{execut}
  \wrd[lt]{675}{457}{7}{order}
  \wrd[lt]{703}{464}{8}{segment}
  \wrd[lt]{669}{464}{5}{concept}
  \wrd[lt]{646}{464}{4}{optim}
  \wrd[up,lt]{715}{397}{6}{measur}
  \wrd[up,lt]{630}{379}{4}{facil}
  \wrd[up,lt]{625}{456}{4}{recognit}
  \wrd[up]{732}{409}{13}{evalu path}
  \wrd[up]{751}{403}{15}{stasko}
  \wrd{780}{402.5}{16}{rotat}
  \wrd{775}{421}{19}{web}
  \wrd{765}{436}{15}{stream}
  \wrd[up]{760}{456}{12}{fluid}
  \wrd{780}{461.5}{15}{video}
  \wrd[up]{816}{420}{18}{multimedia}
  \wrd[up,lt]{733}{461}{9}{tango}
  \wrd{794}{378}{10}{url}
  \wrd[lt]{786}{375}{5}{log}
  \wrd[up,lt]{760}{382}{5}{bitgrow}
  \wrd[up,lt]{798}{427}{5}{site simul}
  \wrd[up,lt]{826}{427}{4}{devic workload}
  \wrd[up]{747}{456}{7}{shape}
  \wrd[up]{747}{484}{7}{pitkow}
  \wrd[up]{843}{437}{10}{benford}
  \wrd[up]{855}{408}{13}{web}
  \wrd[up]{870}{388}{12}{realiti}
  \wrd[up,lt]{843}{403}{8}{alamito}
  \wrd[up,lt]{851}{385}{5}{octob}
  \wrd[lt]{905}{385}{8}{pitkow}
  \wrd{876}{397}{11}{world}
  \wrd{916}{397}{10}{plant}
  \wrd{889}{410}{12}{mine}
  \wrd{882}{422.5}{14}{virtual}
  \wrd{867}{436}{11}{site}
  \wrd{911}{436}{10}{wavelet}
  \wrd{900}{450}{10}{multiresolut}
  \wrd[lt]{852}{450}{9}{work}
  \wrd[lt]{897}{458}{5}{discoveri}
  \wrd[up,lt]{918}{413}{4}{bergergrap}
  \wrd[up]{960}{392.5}{14}{memori}
  \wrd[up]{973}{395}{11}{disk}
  \wrd{994}{397}{10}{mbone}
  \wrd{998}{410}{12}{parallel}
  \wrd{980}{422.5}{15}{vitter}
  \wrd{1018}{423.5}{10}{extern}
  \wrd{974}{436}{11}{sort}
  \wrd{1011}{436.5}{10}{arg}
  \wrd{983}{450}{10}{multicast}
  \wrd{1021}{450}{10}{jeffrei}
  \wrd[up,lt]{948}{397}{8}{acm-siam}
  \wrd[up,lt]{947}{437}{8}{internet}
  \wrd[up,lt]{962}{435}{7}{editor}
  \wrd[lt]{977}{457.5}{5}{springer-verlag}
  \wrd[lt]{1013}{457.5}{5}{network}
  \wrd[lt]{1011}{464}{4}{discret}
  \wrd[up,lt]{1020}{383}{4}{scott}
  \wrd[up,lt]{1027}{385}{4}{wireless}
  \wrd[up]{1070}{395}{14}{network}
  \wrd[up]{1057}{427}{11}{hierarchi}
  \wrd[up]{1097}{382.5}{10}{abello}
  \wrd[up]{1110}{392}{10}{fluid}
  \wrd{1123}{397}{11}{flow}
  \wrd{1103}{410.5}{12}{hyperbol}
  \wrd{1088}{422.5}{15}{mgv}
  \wrd{1122}{423}{12}{navig}
  \wrd{1093}{436.5}{11}{uncertainti}
  \wrd{1120}{450}{10}{cluster}
  \wrd[lt]{1072}{456.5}{9}{munzner}
  \wrd[up,lt]{1052}{381}{6}{eick}
  \wrd[up,lt]{1058}{383}{4}{traffic}
  \wrd[up,lt]{1047}{445}{7}{pang}
  \wrd[lt]{1120}{458}{4}{clutter set}
  \wrd[up,lt]{1065}{447}{4}{phyllop}
  \wrd[up]{1162}{409}{15}{disc}
  \wrd[up]{1148}{442}{11}{hierarchi}
  \wrd[up]{1175}{391}{11}{parallel}
  \wrd{1223}{385}{10}{multivari}
  \wrd{1195}{397}{11}{node}
  \wrd{1230}{397}{10}{statist}
  \wrd{1203}{410.5}{13}{distort}
  \wrd{1192}{422.5}{15}{coordin}
  \wrd{1198}{436}{13}{inselberg}
  \wrd{1214}{450}{11.5}{uncertainti}
  \wrd[lt]{1217}{463}{10}{mcdonald}
  \wrd[lt]{1232}{411}{8}{edg}
  \wrd[up,lt]{1148}{397}{8}{layout}
  \wrd[up,lt]{1156}{381}{5}{comp filter}
  \wrd[up,lt]{1188}{459}{5}{andrew}
  \wrd[up,lt]{1184}{435}{4}{graph}

  % row 8-10
  \wrd[up]{526}{490}{9}{textur}
  \wrd{540}{483}{6}{transpar}
  \wrd{545}{490}{8}{render}
  \wrd{540}{499}{9}{surfac}
  \wrd{560}{497}{6}{line}
  \wrd{534}{509}{7}{illustr}
  \wrd{554}{509}{8}{shape}
  \wrd{553}{515.5}{5}{percept}
  \wrd[up]{557}{480}{4}{curv}
  \wrd[up]{563}{480}{4}{solid}
  \wrd[up]{528}{509}{4}{nasa}
  \wrd[up,lt]{520}{512}{4}{layer}
  \wrd[up]{585}{493}{8}{field}
  \wrd[up]{579}{482}{6}{color}
  \wrd[up]{592}{485}{6}{trace}
  \wrd[up]{598}{483}{5}{depth}
  \wrd{608}{492.5}{9}{light}
  \wrd{603}{500}{9}{raimag}
  \wrd{612}{506.5}{6}{shade}
  \wrd{588}{509}{6}{surfac}
  \wrd[lt]{610}{484}{4}{render}
  \wrd[lt]{613}{513}{4}{blinn}
  \wrd[up,lt]{574}{507}{4}{scale}
  \wrd{595}{532.5}{6}{hanrahan}
  \wrd[up]{573}{533}{4}{pat}
  \wrd[up]{580}{533}{4}{avg}
  \wrd{600}{541.5}{9}{siggraph}
  \wrd{594}{551}{9}{render}
  \wrd{609}{557}{7}{scalar}
  \wrd[up]{575}{560}{6}{light}
  \wrd{586}{564}{6}{surfac}
  \wrd{608}{564}{8}{volum}
  \wrd{605}{571.5}{5}{nelson}
  \wrd[lt]{582}{571.5}{4}{max}
  \wrd[lt]{577}{548}{4}{cho}
  \wrd[up]{642}{507}{18}{textur}
  \wrd[up]{656}{495}{14}{rai}
  \wrd{683}{506}{15}{render}
  \wrd{674}{524}{20}{surfac}
  \wrd[up]{634}{549}{14}{visibl}
  \wrd{654}{540}{15}{cach}
  \wrd{702}{545}{16}{splat}
  \wrd{655}{552.5}{15}{trace}
  \wrd{695}{559}{15}{imag}
  \wrd{663}{566}{13}{curv}
  \wrd[lt]{638}{573}{10}{shape}
  \wrd[lt]{687}{574}{6}{volum}
  \wrd[lt]{708}{572.5}{11}{blinn}
  \wrd[lt]{637}{477}{5}{camera}
  \wrd[up,lt]{707}{483}{10}{field}
  \wrd[up,lt]{718}{508}{10}{implicit}
  \wrd[up,lt]{625}{533}{6}{geometr}
  \wrd[up,lt]{625}{487}{7}{shade}
  \wrd[up,lt]{624}{510}{5}{scene}
  \wrd[up]{752}{517}{16}{plan}
  \wrd[up]{765}{494}{13}{video}
  \wrd{788}{501.5}{12}{modular}
  \wrd{792}{514}{14}{wavelet}
  \wrd{773}{526}{15}{imag}
  \wrd{770}{541}{11}{witkin}
  \wrd{805}{541}{11}{grammar}
  \wrd{762}{553}{10}{lorensen}
  \wrd{803}{553}{11}{segment}
  \wrd[up,lt]{740}{518}{9}{textur}
  \wrd[up,lt]{740}{546}{8}{similar}
  \wrd[lt]{798}{490}{10}{vision}
  \wrd[lt]{820}{490}{6}{istn}
  \wrd[lt]{750}{561.5}{5}{content siggraph}
  \wrd[lt]{792}{561.5}{8}{editor}
  \wrd[up,lt]{818}{503}{4}{featur}
  \wrd[up]{835}{490}{5}{multid}
  \wrd[up]{839}{482}{5}{simul}
  \wrd[up]{844}{487}{8}{web-bas}
  \wrd[up]{858}{481}{6}{adapt}
  \wrd[up]{867}{487}{6}{architectur}
  \wrd{852}{500}{8}{widan}
  \wrd{852}{513}{5}{standard}
  \wrd[up]{875}{482}{4}{paradigm}
  \wrd[lt]{850}{519}{4}{john alex}
  \wrd{860}{535}{6}{distanc}
  \wrd{860}{544}{8}{scale}
  \wrd[up]{837}{537}{6}{proxim}
  \wrd[up]{846}{532}{4}{circuit}
  \wrd{847}{552}{5}{psychometrika}
  \wrd{850}{561.5}{7}{arrang}
  \wrd{868}{558}{4}{arm}
  \wrd[up]{876}{550}{4}{multidimension}
  \wrd[lt]{860}{574}{4}{increment}
  \wrd{905}{477.5}{4}{geograph}
  \wrd[up]{893}{483}{4}{latd}
  \wrd{907}{484}{5}{cartographi}
  \wrd{907}{490.5}{6}{map}
  \wrd{905}{499}{8}{cartograph}
  \wrd{908}{512}{8}{hypertext}
  \wrd{915}{519}{5}{placement}
  \wrd[up]{885}{487}{4}{spatial}
  \wrd[lt]{925}{480}{4}{sem}
  \wrd{908}{532}{7}{cartograph}
  \wrd{908}{541.5}{8}{label}
  \wrd{903}{551.5}{8}{placement}
  \wrd{910}{561.5}{7}{cartogram}
  \wrd{912}{567.5}{5}{cartographi}
  \wrd{918}{574}{5}{problem}
  \wrd[up]{886}{560}{4}{cartogram}
  \wrd[up]{958}{507.5}{18}{koren}
  \wrd[up,lt]{942}{508}{10}{undirect}
  \wrd[up,lt]{993}{483}{9}{ead}
  \wrd[lt]{1015}{482}{12}{method}
  \wrd{1010}{494}{15}{nice}
  \wrd{980}{506}{17}{lnc}
  \wrd{1003}{506.5}{15}{ac}
  \wrd{985}{524}{21}{harel}
  \wrd[up]{942}{548}{13}{simul}
  \wrd{969}{545}{15}{fast}
  \wrd{1008}{545}{17}{anneal}
  \wrd{1002}{559}{15}{multi-scal}
  \wrd{1002}{570.5}{13}{force-direct}
  \wrd[up,lt]{955}{557}{8}{optim}
  \wrd[lt]{950}{477}{5}{tamassia}
  \wrd[up]{1057}{502}{15}{hyperbol}
  \wrd[up]{1071}{495}{11}{sketch}
  \wrd{1113}{489}{11}{robert}
  \wrd{1095}{501.5}{12}{layout}
  \wrd{1097}{514}{13}{abello}
  \wrd{1085}{526}{15}{korfhag}
  \wrd{1092}{540.5}{13}{munzner}
  \wrd{1082}{553}{11}{symp}
  \wrd{1119}{553}{11}{browser}
  \wrd[up]{1065}{545}{8}{librari}
  \wrd[lt]{1104}{567}{9}{springer-verlag}
  \wrd[up,lt]{1045}{513}{9}{cluster}
  \wrd[up,lt]{1052}{555}{10}{direct}
  \wrd[lt]{1062}{567}{6}{berlin}
  \wrd[lt]{1078}{498}{5}{note}
  \wrd[lt]{1132}{496}{5}{start}
  \wrd[up,lt]{1043}{547}{4}{space}
  \wrd[up]{1167}{512}{17}{planar}
  \wrd[up]{1182}{492}{14}{layout}
  \wrd{1197}{501.5}{12}{layer}
  \wrd{1195}{514}{12}{ead}
  \wrd{1225}{507}{11}{transit}
  \wrd{1196}{525}{17}{cluster}
  \wrd{1228}{521}{10}{feng}
  \wrd[up]{1182}{537}{8}{log}
  \wrd{1208}{540.5}{11}{straight-lin}
  \wrd{1215}{554}{10}{network}
  \wrd[lt]{1224}{495.5}{10}{embed}
  \wrd[up,lt]{1156}{510}{9}{ratio note}
  \wrd[up,lt]{1150}{548}{4}{bilevel}
  \wrd[lt]{1160}{555}{4}{convex}
  \wrd[lt]{1163}{561.5}{4}{tamassia}
  \wrd[lt]{1210}{561.5}{6}{automat}
  \wrd[up,lt]{1201}{482}{4}{speed balanc}

  % row 10-12
  \wrd[up]{737}{597}{9}{close}
  \wrd[lt]{745}{582}{4}{contour}
  \wrd{763}{587}{6}{formal}
  \wrd{758}{593}{7}{transform}
  \wrd{747}{603}{9}{curv}
  \wrd{766}{600.5}{5}{gross}
  \wrd{762}{610}{7}{shape}
  \wrd{761}{616.5}{6}{sphere}
  \wrd{738}{620.5}{6}{project}
  \wrd[up]{728}{613}{5}{linear}
  \wrd[up,lt]{728}{592}{4}{vision}
  \wrd[lt]{742}{613}{4}{implicit}
  \wrd[lt]{791}{582}{4}{significant}
  \wrd{817}{587}{6}{observ}
  \wrd[up]{788}{592}{7}{color}
  \wrd{805}{593}{7}{medic}
  \wrd{798}{602.5}{9}{scale}
  \wrd{820}{600.5}{5}{grai}
  \wrd{817}{610}{7}{linear}
  \wrd{795}{613}{6}{imag}
  \wrd{815}{616.5}{6}{percept}
  \wrd{790}{620.5}{5}{perform}
  \wrd[up,lt]{780}{610}{4}{gain}
  \wrd[lt]{813}{624}{4}{suggest}
  \wrd[up]{838}{590}{5}{cartogram}
  \wrd{867}{585}{4}{lookout}
  \wrd{853}{590.5}{5}{discoveri}
  \wrd{872}{590.5}{4}{sun}
  \wrd{860}{597}{5}{collabor}
  \wrd{852}{604}{6}{geograph}
  \wrd{873}{604}{4}{area}
  \wrd{860}{610.5}{5}{maceachren}
  \wrd{848}{616.5}{4}{geoscienc}
  \wrd[up]{887}{597}{5}{geograph}
  \wrd{910}{590.5}{5}{cartograph}
  \wrd{915}{597}{5}{cartogram}
  \wrd{907}{604}{6}{maceachren}
  \wrd{912}{610.5}{5}{cartographi}
  \wrd{895}{616.5}{4}{tempor}
  \wrd[up]{893}{584}{4}{map}
  \wrd[up]{936}{592}{6}{parallel}
  \wrd[up]{947}{587}{5}{plot}
  \wrd{967}{584}{5}{maceachren}
  \wrd{966}{593}{8}{coordin}
  \wrd{955}{603}{9}{geograph}
  \wrd{950}{610.5}{5}{statist}
  \wrd{972}{610.5}{5}{link}
  \wrd{952}{616.5}{5}{assess}
  \wrd{944}{624}{4}{multivari}
  \wrd{975}{620.5}{4}{spatial}
  \wrd[lt]{1057}{581}{5}{force-direct}
  \wrd{1076}{591}{14}{layout}
  \wrd[lt]{1067}{601}{5}{note}
  \wrd[up]{1050}{632}{15}{orthogon}
  \wrd[up]{1067}{612}{17}{tollis}
  \wrd{1107}{610}{15.5}{tamassia}
  \wrd{1086}{628}{21}{gd}
  \wrd{1113}{629}{16}{ead}
  \wrd{1077}{642.5}{15}{planar}
  \wrd{1115}{643}{14}{lnc}
  \wrd{1077}{656}{15}{cluster}
  \wrd{1124}{656.5}{12}{di}
  \wrd[lt]{1063}{670.5}{11}{symp}
  \wrd[lt]{1117}{670.5}{11}{battista}
  \wrd[up,lt]{1039}{618}{7}{springer-verlag}
  \wrd[up,lt]{1039}{663}{5}{network}
  \wrd[up,lt]{1136}{623}{5}{control multipl}
  \wrd[up,lt]{1136}{590}{5}{feng}
  \wrd[lt]{1128}{677}{4}{suppview}
  \node (capC) at (880,707) {\fontsize{15}{15}\selectfont (c)};
\end{tikzpicture}
\end{document}
